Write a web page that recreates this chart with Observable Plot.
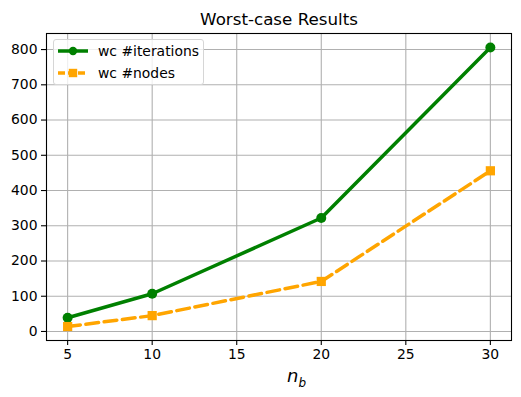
<!DOCTYPE html>
<html>
<head>
<meta charset="utf-8">
<script src="https://cdn.jsdelivr.net/npm/d3@7"></script>
<script src="https://cdn.jsdelivr.net/npm/@observablehq/plot@0.6"></script>
<style>
  html, body { margin: 0; padding: 0; background: #fff; }
  #wrap { position: relative; width: 521px; height: 397px; font-family: "DejaVu Sans", sans-serif; }
  #legend { position: absolute; left: 53px; top: 39px; width: 151px; height: 46px;
    border: 1px solid #d6d6d6; border-radius: 3px; background: rgba(255,255,255,0.8); box-sizing: border-box; }
  .item { position: absolute; left: 4px; height: 20px; display: flex; align-items: center; font-size: 13.9px; color: #000; }
  .item svg { margin-right: 9px; }
  #xlabel { position: absolute; top: 365px; left: 0; width: 100%; text-align: center; font-size: 18px; font-family: "DejaVu Sans", sans-serif; }
</style>
</head>
<body>
<div id="wrap"></div>
<script>
const nb = [5, 10, 20, 30];
const wcIterations = [39, 107, 322, 806];
const wcNodes = [14, 45, 142, 456];
const xTicks = [5, 10, 15, 20, 25, 30];
const yTicks = [0, 100, 200, 300, 400, 500, 600, 700, 800];
const titleText = "Worst-case Results";
const seriesNames = ["wc #iterations", "wc #nodes"];

const green = "#008000";
const orange = "#ffa500";

const iter = nb.map((x, i) => ({x, y: wcIterations[i]}));
const nodes = nb.map((x, i) => ({x, y: wcNodes[i]}));

const plot = Plot.plot({
  width: 521,
  height: 397,
  marginLeft: 46,
  marginRight: 10,
  marginTop: 33,
  marginBottom: 57,
  style: { fontFamily: "DejaVu Sans, sans-serif", background: "#fff", overflow: "visible" },
  x: { domain: [3.75, 31.25], ticks: xTicks, label: null },
  y: { domain: [-25.6, 845.6], ticks: yTicks, label: null },
  marks: [
    Plot.gridX(xTicks, { stroke: "#b0b0b0", strokeOpacity: 1, strokeWidth: 1.1 }),
    Plot.gridY(yTicks, { stroke: "#b0b0b0", strokeOpacity: 1, strokeWidth: 1.1 }),
    Plot.axisX(xTicks, { tickSize: 5, tickPadding: 4, fontSize: 13.9, stroke: "#000", fill: "#000", strokeWidth: 1.1, label: null }),
    Plot.axisY(yTicks, { tickSize: 5, tickPadding: 4, fontSize: 13.9, stroke: "#000", fill: "#000", strokeWidth: 1.1, label: null }),
    Plot.line(iter, { x: "x", y: "y", stroke: green, strokeWidth: 3.5, strokeLinejoin: "round" }),
    Plot.dot(iter, { x: "x", y: "y", r: 5, fill: green, stroke: "none", symbol: "circle" }),
    Plot.line(nodes, { x: "x", y: "y", stroke: orange, strokeWidth: 3.5, strokeDasharray: "12.8,5.6", strokeLinejoin: "round" }),
    Plot.dot(nodes, { x: "x", y: "y", r: 5.2, fill: orange, stroke: "none", symbol: "square" }),
    Plot.frame({ stroke: "#000", strokeWidth: 1.1 }),
    Plot.text([titleText], { frameAnchor: "top", dy: -9, lineAnchor: "bottom", fontSize: 16.7, fill: "#000" })
  ]
});

const wrap = document.getElementById("wrap");
wrap.appendChild(plot);

// legend
const legend = document.createElement("div");
legend.id = "legend";
const styles = [
  { color: green, dash: null, marker: "circle" },
  { color: orange, dash: "7,3", marker: "square" }
];
seriesNames.forEach((name, i) => {
  const s = styles[i];
  const item = document.createElement("div");
  item.className = "item";
  item.style.top = (i === 0 ? 1 : 23) + "px";
  const sw = d3.create("svg").attr("width", 31).attr("height", 12);
  sw.append("line").attr("x1", 0).attr("x2", 30).attr("y1", 6).attr("y2", 6)
    .attr("stroke", s.color).attr("stroke-width", 3.5).attr("stroke-dasharray", s.dash);
  if (s.marker === "circle") sw.append("circle").attr("cx", 15).attr("cy", 6).attr("r", 4.2).attr("fill", s.color);
  else sw.append("rect").attr("x", 10.8).attr("y", 1.8).attr("width", 8.4).attr("height", 8.4).attr("fill", s.color);
  item.appendChild(sw.node());
  const t = document.createElement("span");
  t.textContent = name;
  item.appendChild(t);
  legend.appendChild(item);
});
wrap.appendChild(legend);

// x label
const xl = document.createElement("div");
xl.id = "xlabel";
xl.style.paddingLeft = "36px";
xl.innerHTML = "<i>n</i><sub style='font-size:12px'><i>b</i></sub>";
wrap.appendChild(xl);
</script>
</body>
</html>
